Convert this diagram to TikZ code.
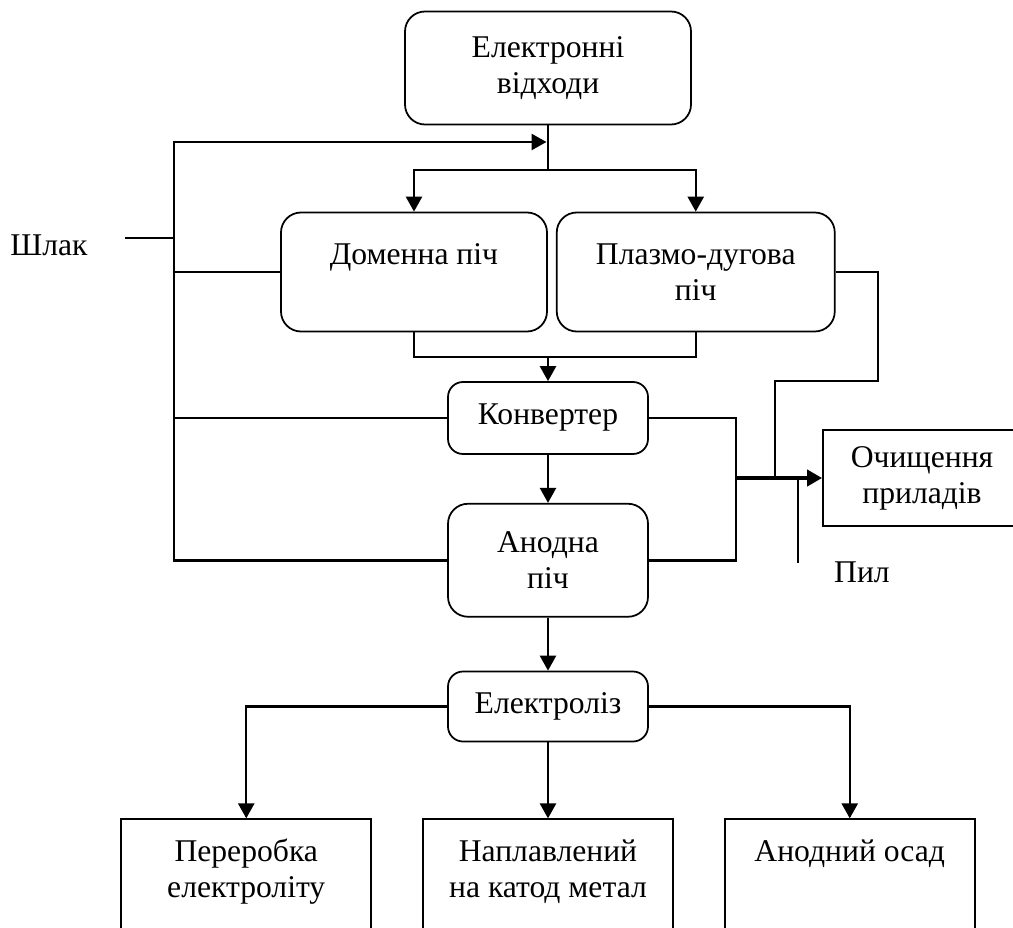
\documentclass[tikz,border=0pt]{standalone}
\usepackage{fontspec}
\setmainfont{Liberation Serif}
\usetikzlibrary{arrows.meta,positioning}

\begin{document}
\begin{tikzpicture}[x=0.2mm, y=-0.2mm, every node/.style={font=\fontsize{18}{20.5}\selectfont, align=center},
	rb/.style={draw, line width=0.35mm, rounded corners=4mm},
	sb/.style={draw, line width=0.35mm},
	ln/.style={line width=0.5mm},
	fine/.style={line width=0.3mm},
	arr/.style={ln, -{Triangle[length=3mm, width=3.2mm]}}]
	\useasboundingbox (0,0) rectangle (1013,928);
	\node[rb, minimum width=57.2mm, minimum height=22.6mm] (waste) at (548,68) {Електронні\\відходи};
	\node[rb, minimum width=53.2mm, minimum height=23.8mm] (dom) at (414,272) {Доменна піч\\~};
	\node[rb, minimum width=55.6mm, minimum height=23.8mm, right=1.6mm of dom] (plasma) {Плазмо-дугова\\піч};
	\node[rb, rounded corners=3mm, minimum width=40mm, minimum height=14.4mm] (conv) at (548,418) {Конвертер};
	\node[rb, minimum width=40mm, minimum height=22.6mm, below=9.6mm of conv] (anode) {Анодна\\піч};
	\node[rb, rounded corners=3mm, minimum width=40mm, minimum height=14mm, below=10.6mm of anode] (elec) {Електроліз};
	\node[sb, minimum width=50mm, minimum height=34mm, below=15.2mm of elec] (cathode) {Наплавлений\\на катод метал\\~\\~};
	\node[sb, minimum width=50mm, minimum height=34mm, left=10mm of cathode] (recyc) {Переробка\\електроліту\\~\\~};
	\node[sb, minimum width=50mm, minimum height=34mm, right=10mm of cathode] (slime) {Анодний осад\\~\\~\\~};
	\node[sb, minimum width=39.6mm, minimum height=19.2mm] (clean) at (922,478) {Очищення\\приладів};
	\node (slag) at (49,245) {Шлак};
	\node (dust) at (862,572) {Пил};
	% points where lines turn
	\coordinate (bus) at (174,142);
	\coordinate (split) at (548,170);
	\coordinate (merge) at (548,357);
	\coordinate (hub) at (736,478);
	\coordinate (gas) at (878,381);
	\coordinate (gasin) at (775,478);
	\coordinate (slagend) at (125,238);
	\coordinate (dustend) at (798,563);
	% main flow
	\draw[ln] (waste) -- (split);
	\draw[arr] (split) -| (dom.north);
	\draw[arr] (split) -| (plasma.north);
	\draw[ln] (dom.south) |- (merge) -| (plasma.south);
	\draw[arr] (merge) -- (conv.north);
	\draw[arr] (conv) -- (anode);
	\draw[arr] (anode) -- (elec);
	\draw[arr] (elec.west) -| (recyc.north);
	\draw[arr] (elec) -- (cathode);
	\draw[arr] (elec.east) -| (slime.north);
	% slag return
	\draw[arr, shorten >=0.3mm] (anode.west) -| (bus) -- (bus -| waste.south);
	\draw[ln] (dom.west) -- (dom.west -| bus);
	\draw[ln] (conv.west) -- (conv.west -| bus);
	\draw[fine] (slagend) -- (slagend -| bus);
	% gases
	\draw[ln] (plasma.east) -| (gas) -| (gasin);
	\draw[ln] (conv.east) -| (hub) |- (anode.east);
	\draw[arr, line width=0.8mm] (hub) -- (clean);
	\draw[fine] (dustend) -- (dustend |- clean.west);
\end{tikzpicture}
\end{document}
